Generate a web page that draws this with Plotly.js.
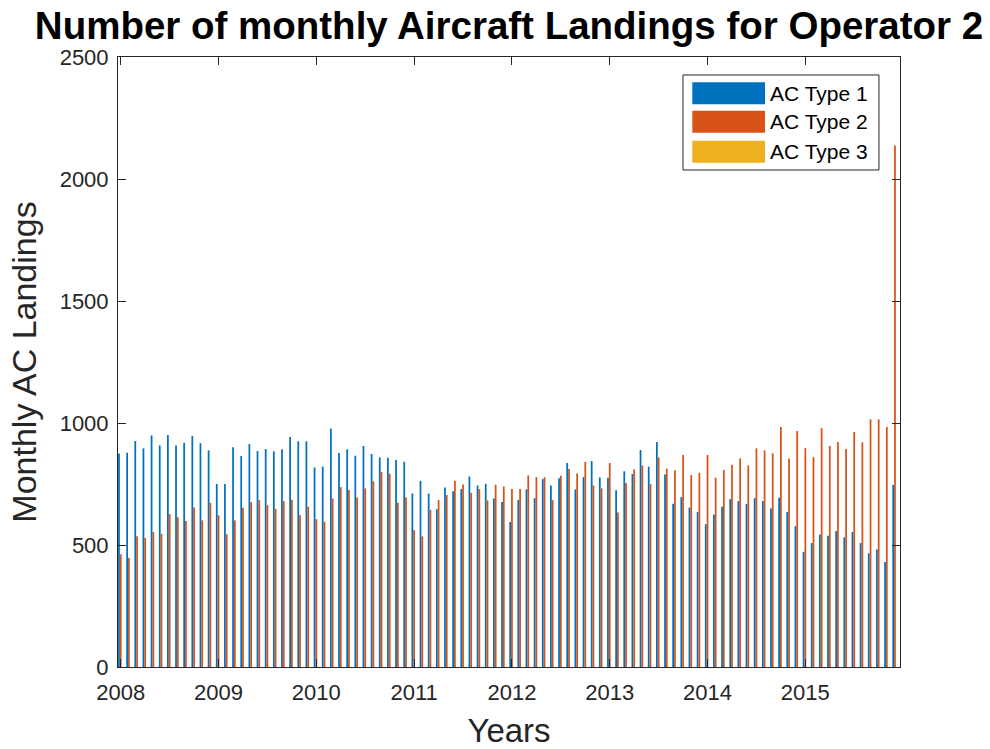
<!DOCTYPE html>
<html><head><meta charset="utf-8">
<script src="https://cdn.plot.ly/plotly-3.0.1.min.js"></script>
<style>html,body{margin:0;padding:0;background:#fff}#chart{width:990px;height:749px}</style>
</head><body><div id="chart"></div>
<script>
const startYear = 2008;
const yearTicks = [2008, 2009, 2010, 2011, 2012, 2013, 2014, 2015];
const yearLabels = ['2008', '2009', '2010', '2011', '2012', '2013', '2014', '2015'];
const yTicks = [0, 500, 1000, 1500, 2000, 2500];
const seriesNames = ['AC Type 1', 'AC Type 2', 'AC Type 3'];
const seriesColors = ['#0072BD', '#D95319', '#EDB120'];

const acType1 = [
  875, 878, 926, 896, 949, 908, 951, 908, 919, 947, 917, 888,
  750, 750, 901, 865, 914, 885, 893, 884, 892, 943, 925, 925,
  818, 821, 977, 877, 892, 866, 906, 873, 859, 858, 848, 841,
  711, 763, 711, 647, 736, 720, 729, 781, 744, 751, 691, 676,
  594, 685, 728, 692, 770, 744, 774, 836, 728, 778, 844, 777,
  776, 724, 802, 791, 889, 821, 922, 789, 669, 696, 653, 635,
  585, 625, 657, 688, 680, 668, 692, 680, 650, 694, 635, 577,
  472, 508, 543, 538, 557, 531, 553, 508, 466, 482, 430, 746
];
const acType2 = [
  462, 447, 536, 529, 553, 546, 627, 614, 598, 654, 601, 673,
  622, 544, 601, 653, 676, 684, 663, 648, 680, 685, 622, 657,
  606, 595, 691, 737, 725, 695, 732, 761, 799, 792, 673, 695,
  561, 535, 644, 685, 705, 763, 748, 713, 729, 683, 747, 740,
  729, 730, 785, 778, 778, 684, 784, 811, 793, 841, 744, 732,
  836, 633, 754, 810, 826, 750, 859, 813, 806, 869, 787, 796,
  869, 776, 807, 829, 855, 826, 896, 888, 876, 984, 855, 967,
  897, 860, 979, 906, 922, 893, 963, 921, 1015, 1015, 984, 2137
];
const acType3 = [
  0, 0, 0, 0, 0, 0, 0, 0, 0, 0, 0, 0,
  0, 0, 0, 0, 0, 0, 0, 0, 0, 0, 0, 0,
  0, 0, 0, 0, 0, 0, 0, 0, 0, 0, 0, 0,
  0, 0, 0, 0, 0, 0, 0, 0, 0, 0, 0, 0,
  0, 0, 0, 0, 0, 0, 0, 0, 0, 0, 0, 0,
  0, 0, 0, 0, 0, 0, 0, 0, 0, 0, 0, 0,
  0, 0, 0, 0, 0, 0, 0, 0, 0, 0, 0, 0,
  0, 0, 0, 0, 0, 0, 0, 0, 0, 0, 0, 0
];

const monthPos = acType1.map((_, i) => startYear + i / 12);
const allSeries = [acType1, acType2, acType3];

const FONT = 'Liberation Sans, Arial, Helvetica, sans-serif';
const AX = '#262626';

const traces = allSeries.map((vals, k) => ({
  type: 'bar',
  x: monthPos,
  y: vals,
  name: seriesNames[k],
  marker: {color: seriesColors[k], line: {width: 0}},
  showlegend: false,
  hoverinfo: 'x+y+name'
}));

// legend drawn in paper coordinates (wide swatches like the original)
const legBox = {x0: 0.7225, x1: 0.9731, y0: 0.8148, y1: 0.9705};
const swX0 = 0.7344, swX1 = 0.8274, txtX = 0.8315;
const rowCenters = [0.9406, 0.8939, 0.8448];
const swH = 0.0361;
const shapes = [{
  type: 'rect', xref: 'paper', yref: 'paper',
  x0: legBox.x0, x1: legBox.x1, y0: legBox.y0, y1: legBox.y1,
  line: {color: AX, width: 1}, fillcolor: '#ffffff', layer: 'above'
}];
const annotations = [];
seriesNames.forEach((nm, k) => {
  shapes.push({
    type: 'rect', xref: 'paper', yref: 'paper',
    x0: swX0, x1: swX1, y0: rowCenters[k] - swH / 2, y1: rowCenters[k] + swH / 2,
    line: {width: 0}, fillcolor: seriesColors[k], layer: 'above'
  });
  annotations.push({
    xref: 'paper', yref: 'paper', x: txtX, y: rowCenters[k],
    xanchor: 'left', yanchor: 'middle', showarrow: false,
    text: nm, font: {family: FONT, size: 21, color: '#000000'}
  });
});

const layout = {
  width: 990, height: 749,
  margin: {l: 118, r: 90, t: 57, b: 82, pad: 0},
  paper_bgcolor: '#ffffff', plot_bgcolor: '#ffffff',
  barmode: 'group', bargap: 0.35, bargroupgap: 0,
  title: {
    text: '<b>Number of monthly Aircraft Landings for Operator 2</b>',
    font: {family: FONT, size: 38.5, color: '#000000'},
    xref: 'paper', x: 0.5, xanchor: 'center',
    yref: 'container', y: 0.966, yanchor: 'middle'
  },
  xaxis: {
    range: [2007.972, 2015.968],
    tickmode: 'array', tickvals: yearTicks, ticktext: yearLabels,
    ticks: 'inside', ticklen: 8, tickwidth: 1, tickcolor: AX,
    showline: true, linecolor: AX, linewidth: 1, mirror: 'ticks',
    showgrid: false, zeroline: false,
    tickfont: {family: FONT, size: 22, color: AX},
    ticklabelstandoff: 6,
    title: {text: 'Years', font: {family: FONT, size: 33, color: AX}, standoff: 16}
  },
  yaxis: {
    range: [0, 2500],
    tickmode: 'array', tickvals: yTicks,
    ticks: 'inside', ticklen: 8, tickwidth: 1, tickcolor: AX,
    showline: true, linecolor: AX, linewidth: 1, mirror: 'ticks',
    showgrid: false, zeroline: false,
    tickfont: {family: FONT, size: 22, color: AX},
    ticklabelstandoff: 4,
    title: {text: 'Monthly AC Landings', font: {family: FONT, size: 34, color: AX}, standoff: 12}
  },
  shapes: shapes,
  annotations: annotations
};

Plotly.newPlot('chart', traces, layout, {displayModeBar: false, staticPlot: true});
</script>
</body></html>
